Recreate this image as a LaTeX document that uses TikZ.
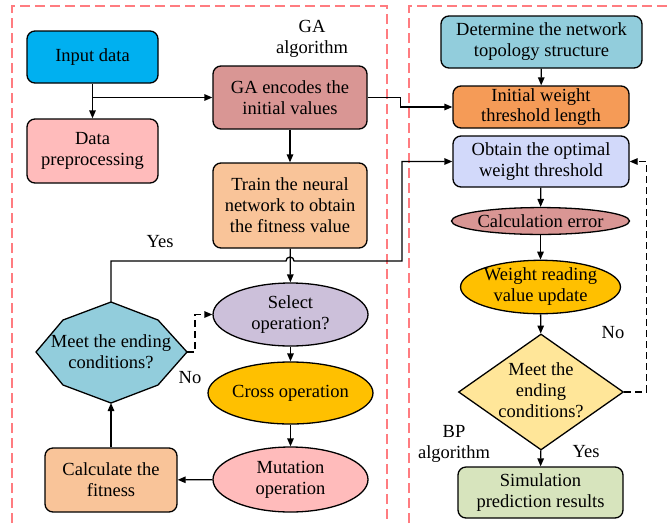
\documentclass[tikz,border=0pt]{standalone}
\usepackage{fontspec}
\setmainfont{Liberation Serif}
\usetikzlibrary{arrows.meta,shapes.geometric,calc}
\definecolor{cInp}{HTML}{00B0F0}
\definecolor{cPink}{HTML}{FFBBBB}
\definecolor{cGA}{HTML}{D99694}
\definecolor{cPeach}{HTML}{F9C499}
\definecolor{cSel}{HTML}{CCC0DA}
\definecolor{cGold}{HTML}{FFC000}
\definecolor{cTeal}{HTML}{92CDDC}
\definecolor{cInit}{HTML}{F59B57}
\definecolor{cOpt}{HTML}{D2D9FA}
\definecolor{cDia}{HTML}{FFE699}
\definecolor{cSim}{HTML}{D7E4BD}
\definecolor{cFrame}{HTML}{FF7C80}
\begin{document}
\begin{tikzpicture}[x=1pt,y=-1pt,
  every node/.style={font=\fontsize{18.5}{21}\selectfont, align=center, inner sep=0pt},
  box/.style={draw=black, line width=1.3pt, rounded corners=8pt, rectangle},
  ell/.style={draw=black, line width=1.3pt, ellipse},
  dia/.style={draw=black, line width=1.3pt, diamond},
  arr/.style={line width=1.3pt, -{Triangle[length=8pt,width=6.5pt]}},
  dsh/.style={arr, dash pattern=on 7pt off 4pt},
  frame/.style={draw=cFrame, line width=1.3pt, dash pattern=on 10pt off 5pt}]
\useasboundingbox (0,0) rectangle (669,523);
% frames
\draw[frame] (12,523) -- (12,6) -- (387,6) -- (387,523);
\draw[frame] (409,523) -- (409,6) -- (669,6);
% left column
\node[box, fill=cInp, minimum width=131pt, minimum height=52pt] (inp) at (92.5,57) {Input data};
\node[box, fill=cPink, minimum width=131pt, minimum height=64pt] (pre) at (92.5,151) {Data\\preprocessing};
\node (galbl) at (312,39) {GA\\algorithm};
\node[box, fill=cGA, minimum width=154pt, minimum height=63pt] (ga) at (290,97.5) {GA encodes the\\initial values};
\node[box, fill=cPeach, minimum width=154pt, minimum height=85pt] (train) at (290,205.5) {Train the neural\\network to obtain\\the fitness value};
\node[ell, fill=cSel, minimum width=155pt, minimum height=63pt] (sel) at (290.5,314.5) {Select\\operation?};
\node[ell, fill=cGold, minimum width=155pt, minimum height=62pt] (cross) at (290.5,393) {Cross operation};
\node[ell, fill=cPink, minimum width=155pt, minimum height=65pt] (mut) at (290.5,479.5) {Mutation\\operation};
\node[box, fill=cPeach, minimum width=132pt, minimum height=64pt] (calc) at (111,480) {Calculate the\\fitness};
% octagon
\coordinate (octT) at (111,302);
\coordinate (octUL) at (63,320);
\coordinate (octL) at (36,352);
\coordinate (octLL) at (63,385);
\coordinate (octB) at (111,403);
\coordinate (octLR) at (158,385);
\coordinate (octR) at (187,352);
\coordinate (octUR) at (158,320);
\draw[line width=1.3pt, fill=cTeal, line join=miter] (octT) -- (octUL) -- (octL) -- (octLL) -- (octB) -- (octLR) -- (octR) -- (octUR) -- cycle;
\node (oct) at (111,352) {Meet the ending\\conditions?};
\node (yes1) at (160,242) {Yes};
\node (no1) at (190,378) {No};
% right column
\node[box, fill=cTeal, minimum width=201pt, minimum height=52pt] (topo) at (541.5,42) {Determine the network\\topology structure};
\node[box, fill=cInit, minimum width=176pt, minimum height=42pt, font=\fontsize{18.5}{20}\selectfont] (init) at (541,107) {Initial weight\\threshold length};
\node[box, fill=cOpt, minimum width=176pt, minimum height=51pt] (opt) at (541,161.5) {Obtain the optimal\\weight threshold};
\node[ell, fill=cGA, minimum width=167pt, minimum height=23pt, inner ysep=3pt] (err) at (540.5,221) {Calculation error};
\node[ell, fill=cGold, minimum width=155pt, minimum height=53pt] (upd) at (540.5,287) {Weight reading\\value update};
\node[dia, fill=cDia, minimum width=165pt, minimum height=116pt, aspect=1.42] (dia) at (541,392) {};
\node (diatxt) at (541,390) {Meet the\\ending\\conditions?};
\node[box, fill=cSim, minimum width=165pt, minimum height=51pt] (sim) at (540.5,492.5) {Simulation\\prediction results};
\node (no2) at (613,333) {No};
\node (yes2) at (586,452) {Yes};
\node (bplbl) at (454,444) {BP\\algorithm};
% connectors left
\draw[arr] (inp) -- (pre);
\draw[arr] (inp.south |- ga.west) -- (ga.west);
\draw[arr] (ga.east) -- ++(33,0) |- (init.west);
\draw[arr] (ga) -- (train);
\draw[arr] (train) -- (sel);
\coordinate (hopL) at (286,261);
\coordinate (jR) at (402,261);
\draw[arr] (octT) |- (hopL) arc (180:360:4) -- (jR) |- (opt.west);
\draw[dsh] (octR) -- ++(8,0) |- (sel.west);
\draw[arr] (calc) -- (octB);
\draw[arr] (mut) -- (calc);
\draw[arr] (sel) -- (cross);
\draw[arr] (cross) -- (mut);
% connectors right
\draw[arr] (topo) -- (init);
\draw[arr] (opt) -- (err);
\draw[arr] (err) -- (upd);
\draw[arr] (upd) -- (dia);
\draw[arr] (dia) -- (sim);
\draw[dsh] (dia.east) -- ++(22,0) |- (opt.east);
\end{tikzpicture}
\end{document}
